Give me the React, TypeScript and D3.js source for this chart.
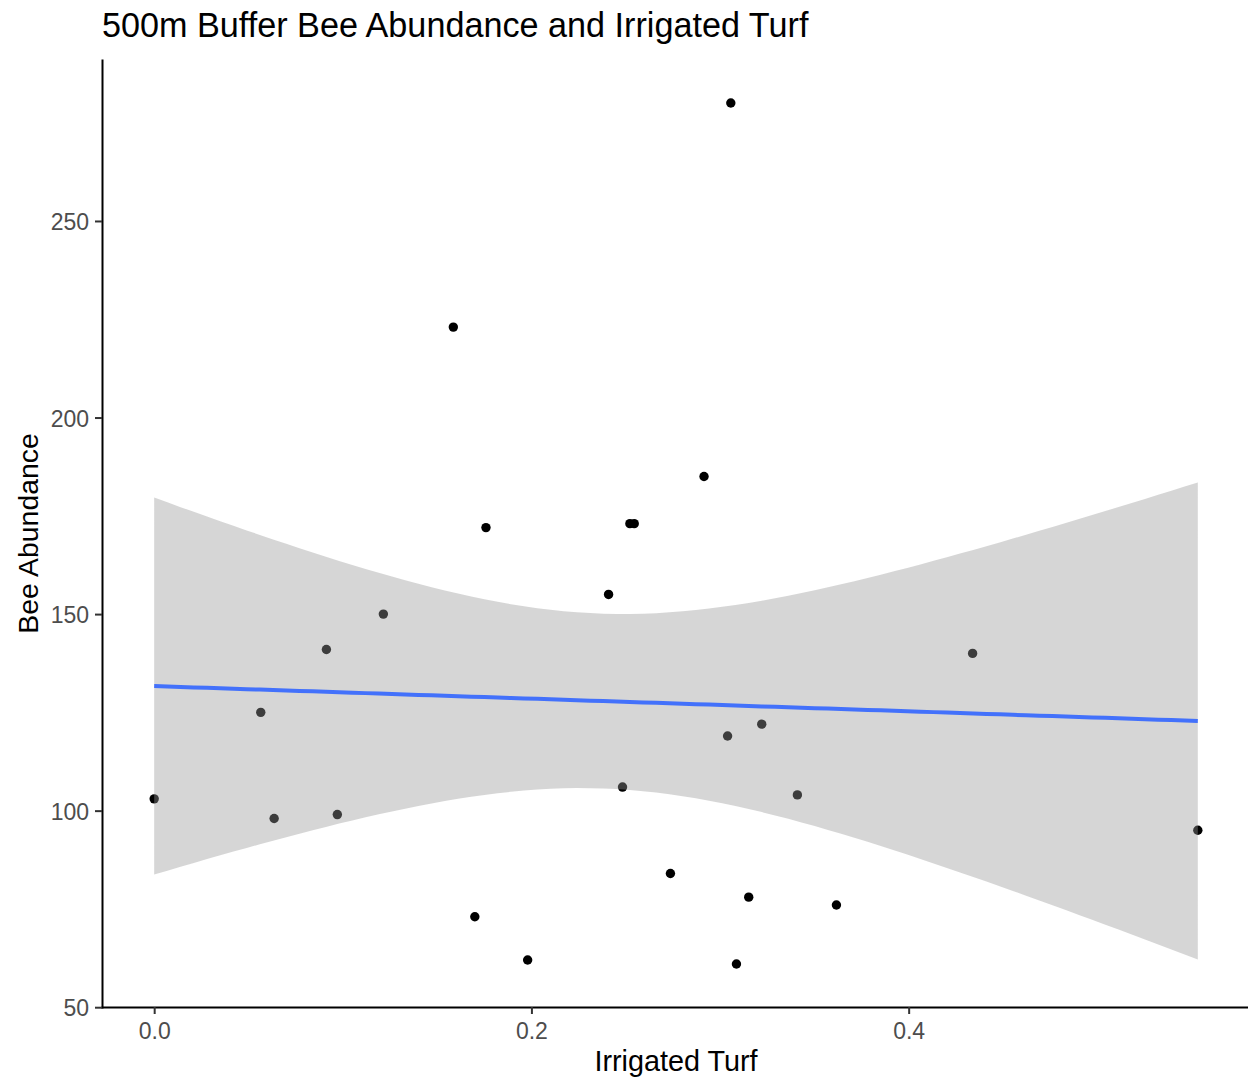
import * as d3 from 'd3'
import { useEffect, useRef } from 'react'

// values
const irrigatedTurf = [0, 0.0565, 0.0636, 0.0913, 0.0971, 0.1215, 0.1586, 0.170, 0.1759, 0.198, 0.2409, 0.2483, 0.2522, 0.2545, 0.2737, 0.2915, 0.304, 0.3057, 0.3087, 0.3152, 0.3221, 0.341, 0.3617, 0.4339, 0.5533]
const beeAbundance = [103, 125, 98, 141, 99, 150, 223, 73, 172, 62, 155, 106, 173, 173, 84, 185, 119, 280, 61, 78, 122, 104, 76, 140, 95]
const xTicks = [0, 0.2, 0.4]
const yTicks = [50, 100, 150, 200, 250]

const TITLE = '500m Buffer Bee Abundance and Irrigated Turf'
const X_LABEL = 'Irrigated Turf'
const Y_LABEL = 'Bee Abundance'

// qt(0.975, df = n - 2 = 23), the 95% band of geom_smooth(method = "lm")
const T_CRIT = 2.0687

const WIDTH = 1248
const HEIGHT = 1083
const PANEL = { LEFT: 102, RIGHT: 1250, TOP: 60, BOTTOM: 1007 }
const FONT = '"Liberation Sans", Arial, sans-serif'

const expand = (values: number[]) => {
  const [lo, hi] = d3.extent(values) as [number, number]
  const pad = (hi - lo) * 0.05
  return [lo - pad, hi + pad]
}

// ordinary least squares + confidence band, same as stat_smooth
const lmBand = (xs: number[], ys: number[], steps = 80) => {
  const n = xs.length
  const mx = d3.mean(xs) as number
  const my = d3.mean(ys) as number
  const sxx = d3.sum(xs, x => (x - mx) ** 2)
  const sxy = d3.sum(xs, (x, i) => (x - mx) * (ys[i] - my))
  const slope = sxy / sxx
  const intercept = my - slope * mx
  const rss = d3.sum(xs, (x, i) => (ys[i] - intercept - slope * x) ** 2)
  const se = Math.sqrt(rss / (n - 2))
  const [x0, x1] = d3.extent(xs) as [number, number]
  return d3.range(steps).map(i => {
    const x = x0 + (x1 - x0) * i / (steps - 1)
    const fit = intercept + slope * x
    const half = T_CRIT * se * Math.sqrt(1 / n + (x - mx) ** 2 / sxx)
    return { x, fit, lo: fit - half, hi: fit + half }
  })
}

const drawChart = (node: SVGSVGElement) => {
  const svg = d3.select(node)
  svg.selectAll('*').remove()

  const x = d3.scaleLinear().domain(expand(irrigatedTurf)).range([PANEL.LEFT, PANEL.RIGHT])
  const y = d3.scaleLinear().domain(expand(beeAbundance)).range([PANEL.BOTTOM, PANEL.TOP])

  svg.append('rect').attr('width', WIDTH).attr('height', HEIGHT).attr('fill', '#ffffff')

  // points first, the ribbon is drawn over them like in ggplot
  svg.append('g')
    .selectAll('circle')
    .data(irrigatedTurf)
    .join('circle')
    .attr('cx', d => x(d))
    .attr('cy', (d, i) => y(beeAbundance[i]))
    .attr('r', 4.7)
    .attr('fill', '#000000')

  const band = lmBand(irrigatedTurf, beeAbundance)

  const area = d3.area<any>()
    .x(d => x(d.x))
    .y0(d => y(d.lo))
    .y1(d => y(d.hi))

  svg.append('path')
    .datum(band)
    .attr('d', area)
    .attr('fill', '#999999')
    .attr('fill-opacity', 0.4)

  const line = d3.line<any>()
    .x(d => x(d.x))
    .y(d => y(d.fit))

  svg.append('path')
    .datum(band)
    .attr('d', line)
    .attr('fill', 'none')
    .attr('stroke', '#3366FF')
    .attr('stroke-opacity', 0.9)
    .attr('stroke-width', 4)

  const styleAxis = (g: any) => {
    g.attr('font-family', FONT).attr('font-size', 23)
    g.select('.domain').attr('stroke', '#000000').attr('stroke-width', 2).attr('stroke-linecap', 'square')
    g.selectAll('.tick line').attr('stroke', '#333333').attr('stroke-width', 2)
    g.selectAll('.tick text').attr('fill', '#4D4D4D')
  }

  svg.append('g')
    .attr('transform', `translate(0,${PANEL.BOTTOM})`)
    .call(d3.axisBottom(x).tickValues(xTicks).tickFormat(d3.format('.1f')).tickSize(7).tickSizeOuter(0).tickPadding(9))
    .call(styleAxis)

  svg.append('g')
    .attr('transform', `translate(${PANEL.LEFT},0)`)
    .call(d3.axisLeft(y).tickValues(yTicks).tickFormat(d3.format('d')).tickSize(7).tickSizeOuter(0).tickPadding(6))
    .call(styleAxis)
    .call((g: any) => g.selectAll('.tick text').attr('dy', '0.37em'))

  svg.append('text')
    .attr('x', PANEL.LEFT)
    .attr('y', 37)
    .attr('font-family', FONT)
    .attr('font-size', 34.2)
    .attr('fill', '#000000')
    .text(TITLE)

  svg.append('text')
    .attr('x', (PANEL.LEFT + PANEL.RIGHT) / 2)
    .attr('y', 1071)
    .attr('text-anchor', 'middle')
    .attr('font-family', FONT)
    .attr('font-size', 28.8)
    .attr('fill', '#000000')
    .text(X_LABEL)

  svg.append('text')
    .attr('transform', `translate(38,${(PANEL.TOP + PANEL.BOTTOM) / 2}) rotate(-90)`)
    .attr('text-anchor', 'middle')
    .attr('font-family', FONT)
    .attr('font-size', 28.4)
    .attr('fill', '#000000')
    .text(Y_LABEL)
}

export default function App() {
  const ref = useRef<SVGSVGElement>(null)

  useEffect(() => {
    if (ref.current) drawChart(ref.current)
  }, [])

  return (
    <svg
      ref={ref}
      width={WIDTH}
      height={HEIGHT}
      style={{ position: 'absolute', left: 0, top: 0, display: 'block' }}
    />
  )
}
